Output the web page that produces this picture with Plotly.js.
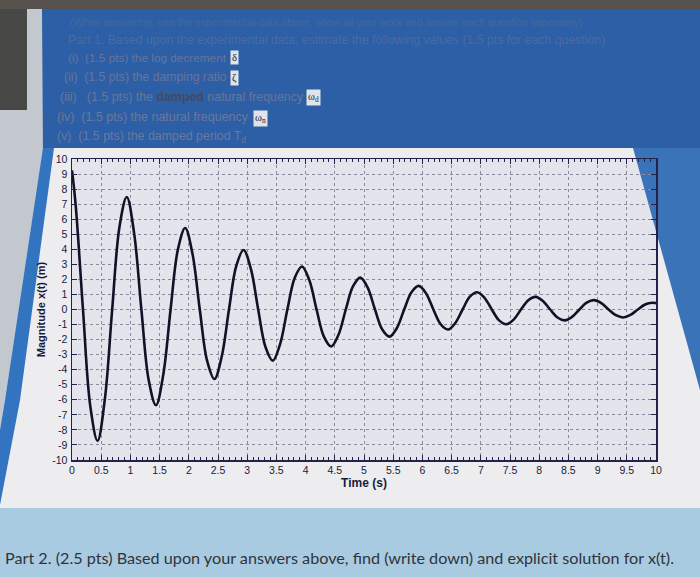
<!DOCTYPE html>
<html>
<head>
<meta charset="utf-8">
<script src="https://cdn.plot.ly/plotly-3.0.1.min.js"></script>
<style>
  html, body { margin: 0; padding: 0; background: #ededf0; }
  #chart { width: 700px; height: 577px; }
</style>
</head>
<body>
<div id="chart"></div>
<script>
// ---- Data ----
const timeS = [0,
  0.063, 0.188, 0.313, 0.438, 0.563, 0.688, 0.813, 0.938,
  1.063, 1.188, 1.313, 1.438, 1.563, 1.688, 1.813, 1.938,
  2.063, 2.188, 2.313, 2.438, 2.563, 2.688, 2.813, 2.938,
  3.063, 3.188, 3.313, 3.438, 3.563, 3.688, 3.813, 3.938,
  4.063, 4.188, 4.313, 4.438, 4.563, 4.688, 4.813, 4.938,
  5.063, 5.188, 5.313, 5.438, 5.563, 5.688, 5.813, 5.938,
  6.063, 6.188, 6.313, 6.438, 6.563, 6.688, 6.813, 6.938,
  7.063, 7.188, 7.313, 7.438, 7.563, 7.688, 7.813, 7.938,
  8.063, 8.188, 8.313, 8.438, 8.563, 8.688, 8.813, 8.938,
  9.063, 9.188, 9.313, 9.438, 9.563, 9.688, 9.813, 9.938,
  10];
const magnitudeM = [9.25,
  6.93, 0, -6.42, -8.73, -5.94, 0, 5.50, 7.48,
  5.09, 0, -4.68, -6.36, -4.33, 0, 3.98, 5.42,
  3.70, 0, -3.40, -4.62, -3.14, 0, 2.90, 3.95,
  2.70, 0, -2.49, -3.40, -2.30, 0, 2.10, 2.86,
  1.96, 0, -1.80, -2.46, -1.68, 0, 1.55, 2.12,
  1.45, 0, -1.33, -1.80, -1.23, 0, 1.15, 1.57,
  1.07, 0, -0.98, -1.33, -0.90, 0, 0.85, 1.15,
  0.78, 0, -0.72, -0.98, -0.67, 0, 0.62, 0.84,
  0.57, 0, -0.53, -0.72, -0.49, 0, 0.45, 0.62,
  0.42, 0, -0.38, -0.53, -0.36, 0, 0.33, 0.45,
  0.42];
const xTickVals = [0,0.5,1,1.5,2,2.5,3,3.5,4,4.5,5,5.5,6,6.5,7,7.5,8,8.5,9,9.5,10];
const xTickText = ['0','0.5','1','1.5','2','2.5','3','3.5','4','4.5','5','5.5','6','6.5','7','7.5','8','8.5','9','9.5','10'];
const yTickVals = [-10,-9,-8,-7,-6,-5,-4,-3,-2,-1,0,1,2,3,4,5,6,7,8,9,10];
const yTickText = ['-10','-9','-8','-7','-6','-5','-4','-3','-2','-1','0','1','2','3','4','5','6','7','8','9','10'];
const xTitle = 'Time (s)';
const yTitle = 'Magnitude x(t) (m)';
const headerLines = [
  '(When answering, use the experimental data above, show all your work and answer each question separately)',
  'Part 1. Based upon the experimental data, estimate the following values (1.5 pts for each question)',
  '(i)\u00a0\u00a0(1.5 pts) the log decrement',
  '(ii)\u00a0\u00a0(1.5 pts) the damping ratio',
  '(iii)\u00a0\u00a0\u00a0(1.5 pts) the <span style="color:#454a5e"><b>damped</b></span> natural frequency',
  '(iv)\u00a0\u00a0(1.5 pts) the natural frequency',
  '(v)\u00a0\u00a0(1.5 pts) the damped period T<sub>d</sub>'
];
const symbols = ['δ', 'ζ', 'ω<sub>d</sub>', 'ω<sub>n</sub>'];
const footerText = 'Part 2. (2.5 pts) Based upon your answers above, find (write down) and explicit solution for x(t).';

// ---- Geometry helpers (pixel -> paper) ----
const W = 700, H = 577;
const M = {l: 72, r: 44, t: 159, b: 117};
const PW = W - M.l - M.r, PH = H - M.t - M.b;
const fx = px => (px - M.l) / PW;
const fy = py => (H - M.b - py) / PH;
function poly(pts) {
  return 'M ' + pts.map(p => fx(p[0]).toFixed(4) + ' ' + fy(p[1]).toFixed(4)).join(' L ') + ' Z';
}
function rectShape(x0, y0, x1, y1, color) {
  return {type: 'rect', xref: 'paper', yref: 'paper', layer: 'below',
    x0: fx(x0), x1: fx(x1), y0: fy(y1), y1: fy(y0), fillcolor: color, line: {width: 0}};
}
function pathShape(pts, color) {
  return {type: 'path', xref: 'paper', yref: 'paper', layer: 'below',
    path: poly(pts), fillcolor: color, line: {width: 0}};
}

const shapes = [
  rectShape(0, 0, 700, 148, '#2c5fa6'),
  rectShape(0, 0, 700, 9, '#57524e'),
  rectShape(0, 9, 27, 110, '#474745'),
  pathShape([[0,110],[27,110],[27,9],[42,9],[43,150],[5,400],[0,430]], '#c3c8cf'),
  pathShape([[43,148],[54,148],[20,400],[0,505],[0,430],[5,400]], '#3274c0'),
  pathShape([[633,148],[700,148],[700,390]], '#3a73b8'),
  rectShape(0, 508, 700, 577, '#a9cbe2')
];

const headerSpec = [
  {x: 68, y: 22, size: 10.5, color: '#44689f'},
  {x: 66, y: 40, size: 12.3, color: '#4a6ba2'},
  {x: 66, y: 58, size: 11.8, color: '#68759a'},
  {x: 62, y: 77, size: 12.2, color: '#68759a'},
  {x: 58, y: 97, size: 12.4, color: '#6a7698'},
  {x: 55, y: 117, size: 12.5, color: '#6c7898'},
  {x: 55, y: 137, size: 12.4, color: '#6c7898'}
];
const symbolSpec = [
  {x: 234, y: 58}, {x: 234, y: 78}, {x: 313, y: 98}, {x: 260, y: 118}
];

const annotations = [];
headerLines.forEach((txt, i) => {
  const s = headerSpec[i];
  annotations.push({xref: 'paper', yref: 'paper', x: fx(s.x), y: fy(s.y),
    xanchor: 'left', yanchor: 'middle', showarrow: false, text: txt,
    font: {family: 'Liberation Sans, Arial, sans-serif', size: s.size, color: s.color}});
});
symbols.forEach((txt, i) => {
  const s = symbolSpec[i];
  annotations.push({xref: 'paper', yref: 'paper', x: fx(s.x), y: fy(s.y),
    xanchor: 'center', yanchor: 'middle', showarrow: false, text: txt,
    bgcolor: '#dfe3ea', borderpad: 1,
    font: {family: 'Liberation Serif, serif', size: 10.5, color: '#20232c'}});
});
annotations.push({xref: 'paper', yref: 'paper', x: fx(3), y: fy(557),
  xanchor: 'left', yanchor: 'middle', showarrow: false, text: footerText,
  font: {family: 'Lato, Open Sans, sans-serif', size: 16.2, color: '#30343a'}});

const trace = {
  x: timeS, y: magnitudeM, type: 'scatter', mode: 'lines',
  line: {color: '#121226', width: 2.6, shape: 'spline', smoothing: 1},
  hoverinfo: 'x+y'
};

const axisFont = {family: 'Liberation Sans, Arial, sans-serif', size: 10.5, color: '#1a1a3c'};
const layout = {
  width: W, height: H,
  margin: M,
  paper_bgcolor: '#ededf0',
  plot_bgcolor: '#e4e4ed',
  showlegend: false,
  shapes: shapes,
  annotations: annotations,
  xaxis: {
    range: [0, 10], tickvals: xTickVals, ticktext: xTickText,
    ticks: 'inside', ticklen: 5, tickcolor: '#22224a', tickwidth: 1,
    minor: {dtick: 0.1, ticks: 'inside', ticklen: 3, tickcolor: '#22224a', showgrid: false},
    showline: true, linecolor: '#22224a', linewidth: 1.5, mirror: 'ticks',
    showgrid: true, gridcolor: '#8a8a9c', griddash: 'dot', gridwidth: 1,
    zeroline: false, tickfont: axisFont,
    title: {text: '<b>' + xTitle + '</b>', standoff: 2,
      font: {family: 'Liberation Sans, Arial, sans-serif', size: 12, color: '#1a1a3c'}}
  },
  yaxis: {
    range: [-10, 10], tickvals: yTickVals, ticktext: yTickText,
    ticks: 'inside', ticklen: 5, tickcolor: '#22224a', tickwidth: 1,
    showline: true, linecolor: '#22224a', linewidth: 1.5, mirror: 'ticks',
    showgrid: true, gridcolor: '#8a8a9c', griddash: 'dot', gridwidth: 1,
    zeroline: false, tickfont: axisFont, ticklabelstandoff: 1,
    title: {text: '<b>' + yTitle + '</b>', standoff: 4,
      font: {family: 'Liberation Sans, Arial, sans-serif', size: 11, color: '#1a1a3c'}}
  }
};

Plotly.newPlot('chart', [trace], layout, {staticPlot: true, displayModeBar: false});
</script>
</body>
</html>
